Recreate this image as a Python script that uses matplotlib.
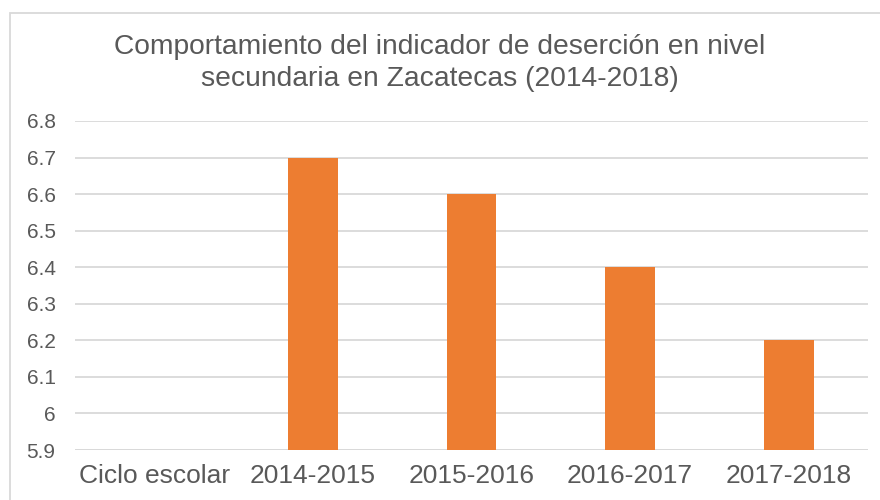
import numpy as np
import matplotlib
matplotlib.use('Agg')
import matplotlib.pyplot as plt
from matplotlib.patches import Rectangle

# data
categorias = ['Ciclo escolar', '2014-2015', '2015-2016', '2016-2017', '2017-2018']
desercion = [np.nan, 6.7, 6.6, 6.4, 6.2]
y_ticks = [5.9, 6.0, 6.1, 6.2, 6.3, 6.4, 6.5, 6.6, 6.7, 6.8]
y_labels = ['5.9', '6', '6.1', '6.2', '6.3', '6.4', '6.5', '6.6', '6.7', '6.8']

plt.rcParams['font.family'] = ['Liberation Sans', 'DejaVu Sans']
gris = '#595959'

fig = plt.figure(figsize=(8.8, 5), dpi=100)
ax = fig.add_axes([75 / 880, 0.1, (868 - 75) / 880, (450 - 121) / 500])

x = np.arange(len(categorias))
ax.bar(x, desercion, width=0.315, color='#ED7D31', bottom=0, zorder=3)

ax.set_ylim(5.9, 6.8)
ax.set_xlim(-0.5, len(categorias) - 0.5)
ax.set_yticks(y_ticks)
ax.set_yticklabels(y_labels, fontsize=15, color=gris)
ax.set_xticks(x)
ax.set_xticklabels(categorias, fontsize=19, color=gris)
ax.tick_params(axis='y', length=0, pad=14)
ax.tick_params(axis='x', length=0, pad=10)
ax.grid(axis='y', color='#D9D9D9', linewidth=1.3, zorder=0)
for s in ax.spines.values():
    s.set_visible(False)
ax.axhline(5.9, color='#D9D9D9', linewidth=1.3, zorder=1)

fig.text(0.5, 1 - 63 / 500,
         'Comportamiento del indicador de deserción en nivel\nsecundaria en Zacatecas (2014-2018)',
         ha='center', va='center', multialignment='center',
         fontsize=20.3, color=gris, linespacing=1.3)

# marco del gráfico
fig.patches.append(Rectangle((10 / 880, -0.1), 1.0, 1 - 13 / 500 + 0.1,
                             transform=fig.transFigure, fill=False,
                             edgecolor='#D9D9D9', linewidth=1.3))

fig.savefig('out.png', dpi=100)
